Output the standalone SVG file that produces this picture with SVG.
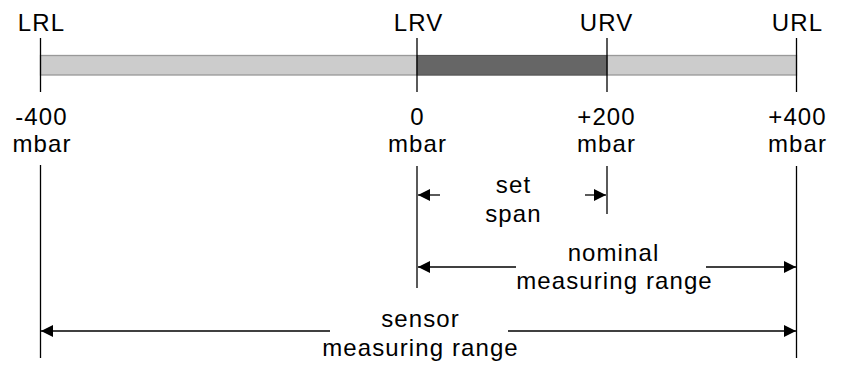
<svg xmlns="http://www.w3.org/2000/svg" width="845" height="365" viewBox="0 0 845 365">
<defs>
<style>
text{font-family:"Liberation Sans",Arial,sans-serif;font-size:24px;letter-spacing:1.1px;fill:#000;text-anchor:middle}
.ln{stroke:#000;stroke-width:1.3;fill:none}
.ar{stroke:#000;stroke-width:1.3;fill:none}
</style>
<marker id="ah" viewBox="0 0 12 12" refX="12" refY="6" markerWidth="12" markerHeight="12" markerUnits="userSpaceOnUse" orient="auto-start-reverse">
<path d="M0,0 L12,6 L0,12 Z" fill="#000"/>
</marker>
</defs>
<rect width="845" height="365" fill="#fff"/>
<g id="bar">
<rect x="40.5" y="55.5" width="756" height="19.5" fill="#cccccc" stroke="#999999" stroke-width="1.3"/>
<rect x="417" y="55.5" width="190" height="19.5" fill="#666666" stroke="#555555" stroke-width="1"/>
</g>
<g id="ticks">
<line class="ln" x1="40.5" y1="38" x2="40.5" y2="92"/>
<line class="ln" x1="417" y1="38" x2="417" y2="92"/>
<line class="ln" x1="607" y1="38" x2="607" y2="92"/>
<line class="ln" x1="796.5" y1="38" x2="796.5" y2="92"/>
<line class="ln" x1="40.5" y1="165" x2="40.5" y2="358"/>
<line class="ln" x1="417" y1="166" x2="417" y2="288"/>
<line class="ln" x1="607" y1="166" x2="607" y2="214"/>
<line class="ln" x1="796.5" y1="166" x2="796.5" y2="358"/>
</g>
<g id="LRL"><text x="41.5" y="31">LRL</text><text x="41.5" y="125">-400</text><text x="42" y="152">mbar</text></g>
<g id="LRV"><text x="418.5" y="31">LRV</text><text x="417.5" y="125">0</text><text x="417.5" y="152">mbar</text></g>
<g id="URV"><text x="606.5" y="31">URV</text><text x="606.5" y="125">+200</text><text x="606.5" y="152">mbar</text></g>
<g id="URL"><text x="797.5" y="31">URL</text><text x="797.5" y="125">+400</text><text x="797.5" y="152">mbar</text></g>
<g id="connectors">
<line class="ar" x1="440" y1="195" x2="418" y2="195" marker-end="url(#ah)"/>
<line class="ar" x1="585" y1="195" x2="606" y2="195" marker-end="url(#ah)"/>
<line class="ar" x1="516" y1="267" x2="418" y2="267" marker-end="url(#ah)"/>
<line class="ar" x1="706" y1="267" x2="796" y2="267" marker-end="url(#ah)"/>
<line class="ar" x1="330" y1="331" x2="41" y2="331" marker-end="url(#ah)"/>
<line class="ar" x1="508" y1="331" x2="796" y2="331" marker-end="url(#ah)"/>
</g>
<g id="span"><text x="513.5" y="193">set</text><text x="513.5" y="222">span</text></g>
<g id="nominal"><text x="613.5" y="261">nominal</text><text x="614.5" y="289">measuring range</text></g>
<g id="sensor"><text x="420.5" y="327">sensor</text><text x="420.5" y="356">measuring range</text></g>
</svg>
